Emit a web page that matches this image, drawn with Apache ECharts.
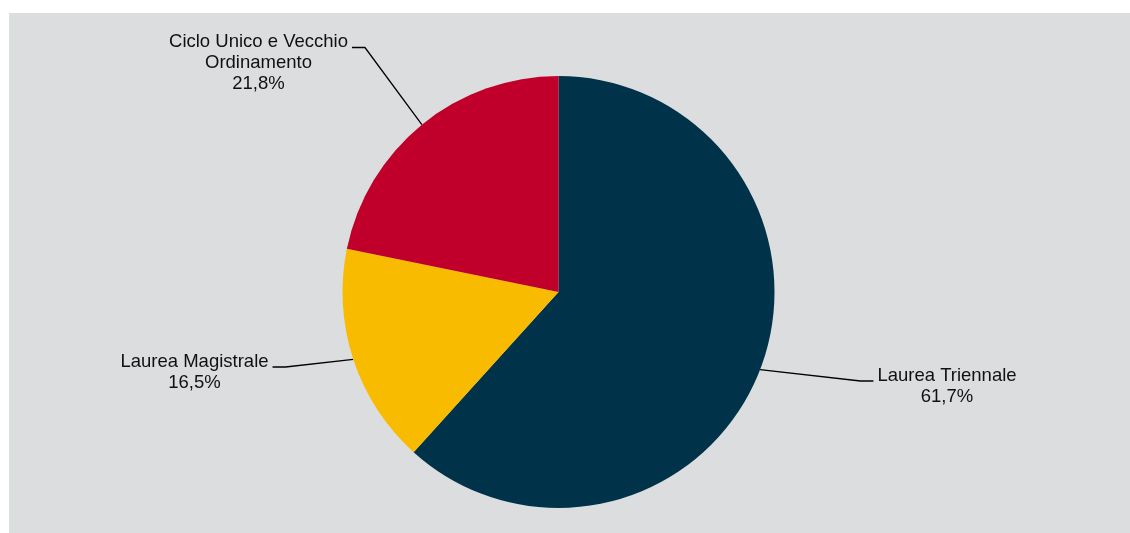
<!DOCTYPE html>
<html>
<head>
<meta charset="utf-8">
<script src="https://cdn.jsdelivr.net/npm/echarts@6/dist/echarts.min.js"></script>
<style>
  html, body { margin: 0; padding: 0; background: #ffffff; }
  #bg { position: absolute; left: 9px; top: 13px; width: 1121px; height: 520px; background: #dcdddf; }
  #chart { position: absolute; left: 0; top: 0; width: 1130px; height: 533px; }
</style>
</head>
<body>
<div id="bg"></div>
<div id="chart"></div>
<script>
// Data
const categories = ['Laurea Triennale', 'Laurea Magistrale', 'Ciclo Unico e Vecchio Ordinamento'];
const labelNames = ['Laurea Triennale', 'Laurea Magistrale', 'Ciclo Unico e Vecchio\nOrdinamento'];
const values = [61.7, 16.5, 21.8];
const colors = ['#00324a', '#f9bb00', '#c0002b'];

// Label placement (center x, top y, side of the pie)
const labelBoxes = [
  { cx: 947, top: 365, side: 1 },
  { cx: 194.5, top: 351, side: -1 },
  { cx: 258.5, top: 31.5, side: -1 }
];

const chart = echarts.init(document.getElementById('chart'), null, { renderer: 'canvas' });

const seriesData = categories.map(function (c, i) {
  return { name: c, value: values[i], itemStyle: { color: colors[i] } };
});

chart.setOption({
  backgroundColor: 'transparent',
  animation: false,
  series: [{
    type: 'pie',
    center: [558.5, 292],
    radius: 216,
    startAngle: 90,
    clockwise: true,
    avoidLabelOverlap: false,
    minShowLabelAngle: 0,
    data: seriesData,
    itemStyle: { borderWidth: 0 },
    emphasis: { disabled: true },
    label: {
      show: true,
      position: 'outside',
      color: '#111111',
      fontFamily: 'Liberation Sans, Arial, sans-serif',
      fontSize: 18.5,
      lineHeight: 21,
      align: 'center',
      formatter: function (p) {
        return labelNames[p.dataIndex] + '\n' + values[p.dataIndex].toFixed(1).replace('.', ',') + '%';
      }
    },
    labelLine: {
      show: true,
      length: 30,
      length2: 13,
      smooth: false,
      lineStyle: { color: '#000000', width: 1.3 }
    },
    labelLayout: function (p) {
      const b = labelBoxes[p.dataIndex];
      const w = p.labelRect.width;
      const yLine = b.top + 16;
      const endX = b.side > 0 ? b.cx - w / 2 - 4 : b.cx + w / 2 + 4;
      const elbowX = endX - b.side * 13;
      const res = { x: b.cx, y: b.top, align: 'center', verticalAlign: 'top', hideOverlap: false };
      if (p.labelLinePoints && p.labelLinePoints[0]) {
        res.labelLinePoints = [p.labelLinePoints[0].slice(), [elbowX, yLine], [endX, yLine]];
      }
      return res;
    }
  }]
});
</script>
</body>
</html>
